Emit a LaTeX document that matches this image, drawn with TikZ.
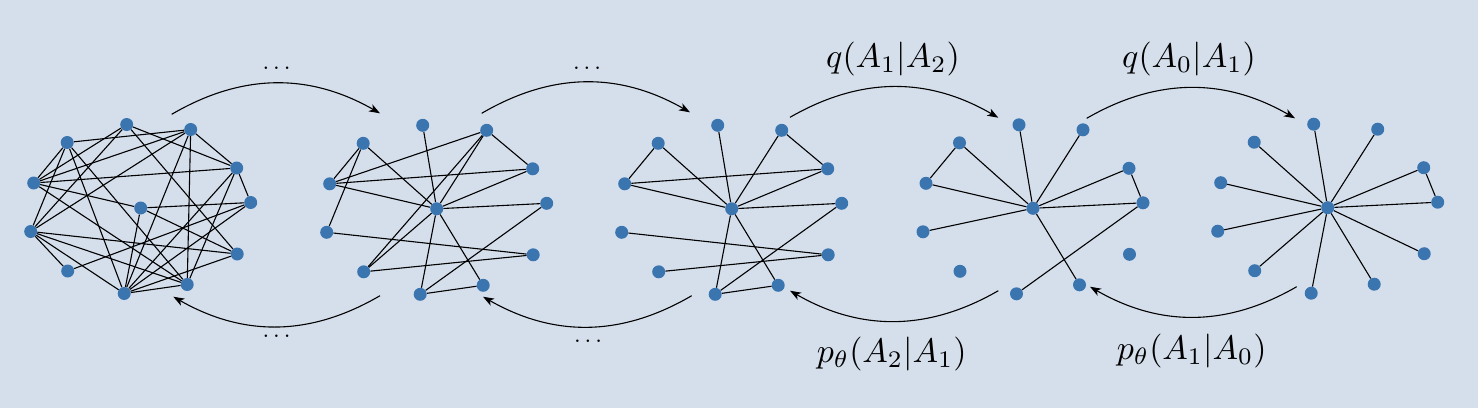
\documentclass[tikz,border=0pt]{standalone}
\usetikzlibrary{arrows.meta,backgrounds}
\definecolor{bg}{RGB}{213,223,236}
\definecolor{nodeblue}{RGB}{58,117,176}
\tikzset{
  vtx/.style={circle,fill=nodeblue,inner sep=0pt,minimum size=13pt},
  edge/.style={black,line width=1.1pt},
  trans/.style={black,line width=1.1pt,-{Stealth[length=11pt,width=8pt,inset=3pt]}},
  lbl/.style={inner sep=0pt,scale=3.4},
  dots/.style={inner sep=0pt,scale=2.4}
}
\newcommand{\mkgraph}[3]{%
  \node[vtx] (#1a) at (#2-14,#3-83.5) {};
  \node[vtx] (#1b) at (#2+50,#3-78.5) {};
  \node[vtx] (#1c) at (#2-73.5,#3-65.5) {};
  \node[vtx] (#1d) at (#2+96,#3-40) {};
  \node[vtx] (#1e) at (#2-107,#3-25) {};
  \node[vtx] (#1f) at (#2+110,#3-5.5) {};
  \node[vtx] (#1o) at (#2,#3) {};
  \node[vtx] (#1g) at (#2-110,#3+23.5) {};
  \node[vtx] (#1h) at (#2+96.5,#3+46) {};
  \node[vtx] (#1i) at (#2-73,#3+63) {};
  \node[vtx] (#1j) at (#2+46.5,#3+76.5) {};
  \node[vtx] (#1k) at (#2-16.5,#3+85.5) {};
}
\newcommand{\edges}[2]{%
  \begin{scope}[on background layer]
  \foreach \u/\v in {#2} {\draw[edge] (#1\u) -- (#1\v);}
  \end{scope}
}
\begin{document}
\begin{tikzpicture}[x=1pt,y=-1pt]
\begin{scope}[on background layer]
\fill[bg] (0,0) rectangle (1478,408);
\end{scope}
\useasboundingbox (0,0) rectangle (1478,408);
\mkgraph{P}{140.7}{208}
\mkgraph{Q}{436.7}{208.8}
\mkgraph{R}{731.7}{208.8}
\mkgraph{S}{1033}{208.3}
\mkgraph{T}{1327.7}{207.7}
\edges{P}{c/b,e/b,e/a,e/c,e/d,e/o,e/j,g/c,g/a,g/b,g/i,g/j,g/h,g/k,c/k,c/j,a/d,a/h,b/d,b/j,b/k,d/f,d/j,d/k,f/o,f/i,f/k,o/k,o/h,j/k,k/h}
\edges{Q}{c/e,c/g,c/o,a/o,e/b,e/d,e/o,b/d,b/o,b/i,d/o,o/f,o/i,o/k,o/j,g/h,i/h,f/k,k/j}
\edges{R}{c/e,c/o,a/o,b/o,b/d,e/d,e/o,d/o,o/f,g/h,i/h,f/k,o/k,o/j,k/j}
\edges{S}{o/a,o/b,o/c,o/d,o/e,o/f,o/g,o/j,c/e,d/f,f/k}
\edges{T}{o/a,o/b,o/c,o/d,o/e,o/f,o/g,o/h,o/i,o/j,o/k,d/f}
% transition arrows
\coordinate (t1s) at (171.7,114.3); \coordinate (t1e) at (380,113.3);
\coordinate (t2s) at (481.7,113.3); \coordinate (t2e) at (690,112.3);
\coordinate (t3s) at (790,117.3);   \coordinate (t3e) at (998.3,117.7);
\coordinate (t4s) at (1086.7,118.3);\coordinate (t4e) at (1295,118.3);
\coordinate (b1s) at (380,295.7);   \coordinate (b1e) at (173.3,296.7);
\coordinate (b2s) at (691.7,295.7); \coordinate (b2e) at (483,296.7);
\coordinate (b3s) at (998.3,290.7); \coordinate (b3e) at (790,290.7);
\coordinate (b4s) at (1296.7,286.7);\coordinate (b4e) at (1090,286.7);
\draw[trans] (t1s) to[bend left=30] (t1e);
\draw[trans] (t2s) to[bend left=30] (t2e);
\draw[trans] (t3s) to[bend left=30] (t3e);
\draw[trans] (t4s) to[bend left=30] (t4e);
\draw[trans] (b1s) to[bend left=30] (b1e);
\draw[trans] (b2s) to[bend left=30] (b2e);
\draw[trans] (b3s) to[bend left=30] (b3e);
\draw[trans] (b4s) to[bend left=30] (b4e);
\node[dots] (l1) at (276.5,68) {$\dots$};
\node[dots] (l2) at (587,68) {$\dots$};
\node[lbl] (l3) at (893,59) {$q(A_1|A_2)$};
\node[lbl] (l4) at (1189,59) {$q(A_0|A_1)$};
\node[dots] (l5) at (276.5,336) {$\dots$};
\node[dots] (l6) at (588,341) {$\dots$};
\node[lbl] (l7) at (891.7,354) {$p_\theta(A_2|A_1)$};
\node[lbl] (l8) at (1191.7,351) {$p_\theta(A_1|A_0)$};
\end{tikzpicture}
\end{document}
